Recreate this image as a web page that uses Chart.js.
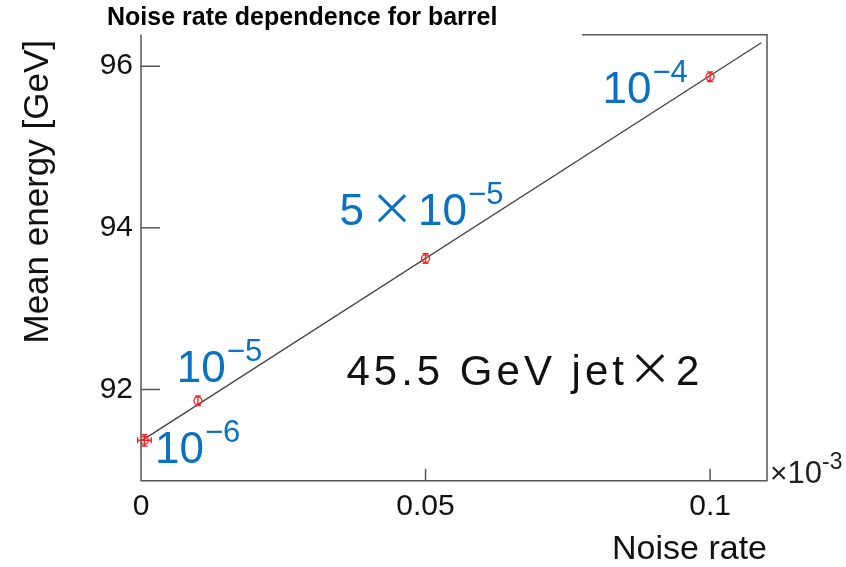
<!DOCTYPE html>
<html>
<head>
<meta charset="utf-8">
<script src="https://cdn.jsdelivr.net/npm/chart.js@4"></script>
<style>
  body { margin: 0; background: #fff; }
  canvas { display: block; }
</style>
</head>
<body>
<canvas id="noiseChart" width="846" height="567"></canvas>
<script>
// measured points (noise rate in units of 1e-3, mean energy in GeV)
const noiseRate = [0.0006, 0.01, 0.05, 0.1];
const meanEnergy = [91.37, 91.86, 93.62, 95.87];
const energyErr = [0.07, 0.06, 0.06, 0.06];
const rateErr = [0.0012, 0, 0, 0];

// straight-line fit drawn across the plot
const fitRate = [0, 0.109];
const fitEnergy = [91.36, 96.29];

const xTicks = [0, 0.05, 0.1];
const yTicks = [92, 94, 96];

const BLUE = "#0a70c0";
const AXIS = "#555";

// labels next to the points: base text + superscript exponent
const pointLabels = [
  { x: 0.00246, y: 91.09, base: "10", exp: "\u22126" },
  { x: 0.0063, y: 92.09, base: "10", exp: "\u22125" },
  { x: 0.0349, y: 94.04, pre: "5", base: "10", exp: "\u22125" },
  { x: 0.0811, y: 95.55, base: "10", exp: "\u22124" },
];

function drawRuns(ctx, x, y, runs, color) {
  ctx.fillStyle = color;
  ctx.textBaseline = "alphabetic";
  ctx.textAlign = "left";
  runs.forEach((r) => {
    ctx.font = r.font;
    ctx.fillText(r.t, x, y + (r.dy || 0));
    x += ctx.measureText(r.t).width + (r.gap || 0);
  });
}

const LATIN = "'Liberation Sans', Arial, sans-serif";
const CJK = "'Noto Sans CJK KR', sans-serif";

const framePlugin = {
  id: "frame",
  afterDatasetsDraw(chart) {
    const { ctx, scales } = chart;
    const xs = scales.x, ys = scales.y;
    ctx.save();
    ctx.strokeStyle = "#f22";
    ctx.lineWidth = 1.4;
    noiseRate.forEach((r, i) => {
      const px = xs.getPixelForValue(r);
      const py = ys.getPixelForValue(meanEnergy[i]);
      const y0 = ys.getPixelForValue(meanEnergy[i] - energyErr[i]);
      const y1 = ys.getPixelForValue(meanEnergy[i] + energyErr[i]);
      ctx.beginPath();
      ctx.moveTo(px, y0); ctx.lineTo(px, y1);
      ctx.moveTo(px - 3, y0); ctx.lineTo(px + 3, y0);
      ctx.moveTo(px - 3, y1); ctx.lineTo(px + 3, y1);
      if (rateErr[i] > 0) {
        const x0 = xs.getPixelForValue(r - rateErr[i]);
        const x1 = xs.getPixelForValue(r + rateErr[i]);
        ctx.moveTo(x0, py); ctx.lineTo(x1, py);
        ctx.moveTo(x0, py - 3); ctx.lineTo(x0, py + 3);
        ctx.moveTo(x1, py - 3); ctx.lineTo(x1, py + 3);
      }
      ctx.stroke();
    });
    ctx.restore();
  },
  afterDraw(chart) {
    const { ctx, chartArea: a, scales } = chart;
    const xs = scales.x, ys = scales.y;
    ctx.save();
    // frame (top edge hidden behind the title box on the left)
    ctx.strokeStyle = AXIS;
    ctx.lineWidth = 1.5;
    ctx.beginPath();
    ctx.moveTo(582, a.top); ctx.lineTo(a.right, a.top);
    ctx.lineTo(a.right, a.bottom); ctx.lineTo(a.left, a.bottom);
    ctx.lineTo(a.left, a.top);
    // inward tick marks
    yTicks.forEach((v) => {
      const py = ys.getPixelForValue(v);
      ctx.moveTo(a.left, py); ctx.lineTo(a.left + 19, py);
    });
    xTicks.forEach((v) => {
      const px = xs.getPixelForValue(v);
      ctx.moveTo(px, a.bottom); ctx.lineTo(px, a.bottom - 12);
    });
    ctx.stroke();

    // title
    ctx.fillStyle = "#000";
    ctx.font = "bold 25px " + LATIN;
    ctx.textAlign = "left";
    ctx.textBaseline = "alphabetic";
    ctx.fillText("Noise rate dependence for barrel", 107, 25);

    // axis titles
    ctx.font = "34px " + LATIN;
    ctx.fillStyle = "#111";
    ctx.textAlign = "right";
    ctx.fillText("Noise rate", a.right, 559);
    ctx.save();
    ctx.font = "35px " + LATIN;
    ctx.translate(48, 40);
    ctx.rotate(-Math.PI / 2);
    ctx.textAlign = "right";
    ctx.fillText("Mean energy [GeV]", 0, 0);
    ctx.restore();

    // exponent of the x axis
    drawRuns(ctx, a.right + 3, 483, [
      { t: "\u00d7", font: "30px " + LATIN },
      { t: "10", font: "31px " + LATIN },
      { t: "-3", font: "23px " + LATIN, dy: -14 },
    ], "#222");

    // point labels
    pointLabels.forEach((l) => {
      const px = xs.getPixelForValue(l.x);
      const py = ys.getPixelForValue(l.y);
      const runs = [];
      if (l.pre) {
        runs.push({ t: l.pre, font: "44px " + LATIN, gap: 6 });
        runs.push({ t: "\u00d7", font: "44px " + CJK, gap: 4 });
      }
      runs.push({ t: l.base, font: "44px " + LATIN, gap: 1 });
      runs.push({ t: l.exp, font: "31px " + LATIN, dy: -21 });
      drawRuns(ctx, px, py, runs, BLUE);
    });

    // beam label
    ctx.letterSpacing = "4px";
    drawRuns(ctx, xs.getPixelForValue(0.0361), ys.getPixelForValue(92.05), [
      { t: "45.5 GeV jet", font: "42px " + LATIN, gap: 0 },
      { t: "\u00d7", font: "44px " + CJK, gap: 0 },
      { t: "2", font: "42px " + LATIN },
    ], "#111");
    ctx.letterSpacing = "0px";
    ctx.restore();
  },
};

new Chart(document.getElementById("noiseChart").getContext("2d"), {
  type: "scatter",
  data: {
    datasets: [
      {
        label: "points",
        data: noiseRate.map((r, i) => ({ x: r, y: meanEnergy[i] })),
        pointStyle: "circle",
        pointRadius: 4,
        borderColor: "#f22",
        backgroundColor: "rgba(0,0,0,0)",
        borderWidth: 1.4,
        showLine: false,
      },
      {
        label: "fit",
        type: "line",
        data: fitRate.map((r, i) => ({ x: r, y: fitEnergy[i] })),
        borderColor: "#444",
        borderWidth: 1.3,
        pointRadius: 0,
        fill: false,
      },
    ],
  },
  options: {
    responsive: false,
    devicePixelRatio: 1,
    animation: false,
    layout: { padding: { top: 34.7, right: 79, bottom: 0, left: 0 } },
    plugins: { legend: { display: false }, tooltip: { enabled: false } },
    scales: {
      x: {
        type: "linear",
        min: 0,
        max: 0.11,
        grid: { display: false, drawTicks: false },
        border: { display: false },
        afterFit: (s) => { s.height = 86.3; },
        afterBuildTicks: (s) => { s.ticks = xTicks.map((v) => ({ value: v })); },
        ticks: {
          color: "#111",
          font: { family: LATIN, size: 30 },
          padding: 8,
          callback: (v) => String(+v.toFixed(3)),
        },
      },
      y: {
        min: 90.87,
        max: 96.39,
        grid: { display: false, drawTicks: false },
        border: { display: false },
        afterFit: (s) => { s.width = 141; },
        afterBuildTicks: (s) => { s.ticks = yTicks.map((v) => ({ value: v })); },
        ticks: {
          color: "#111",
          font: { family: LATIN, size: 30 },
          padding: 8,
        },
      },
    },
  },
  plugins: [framePlugin],
});
</script>
</body>
</html>
